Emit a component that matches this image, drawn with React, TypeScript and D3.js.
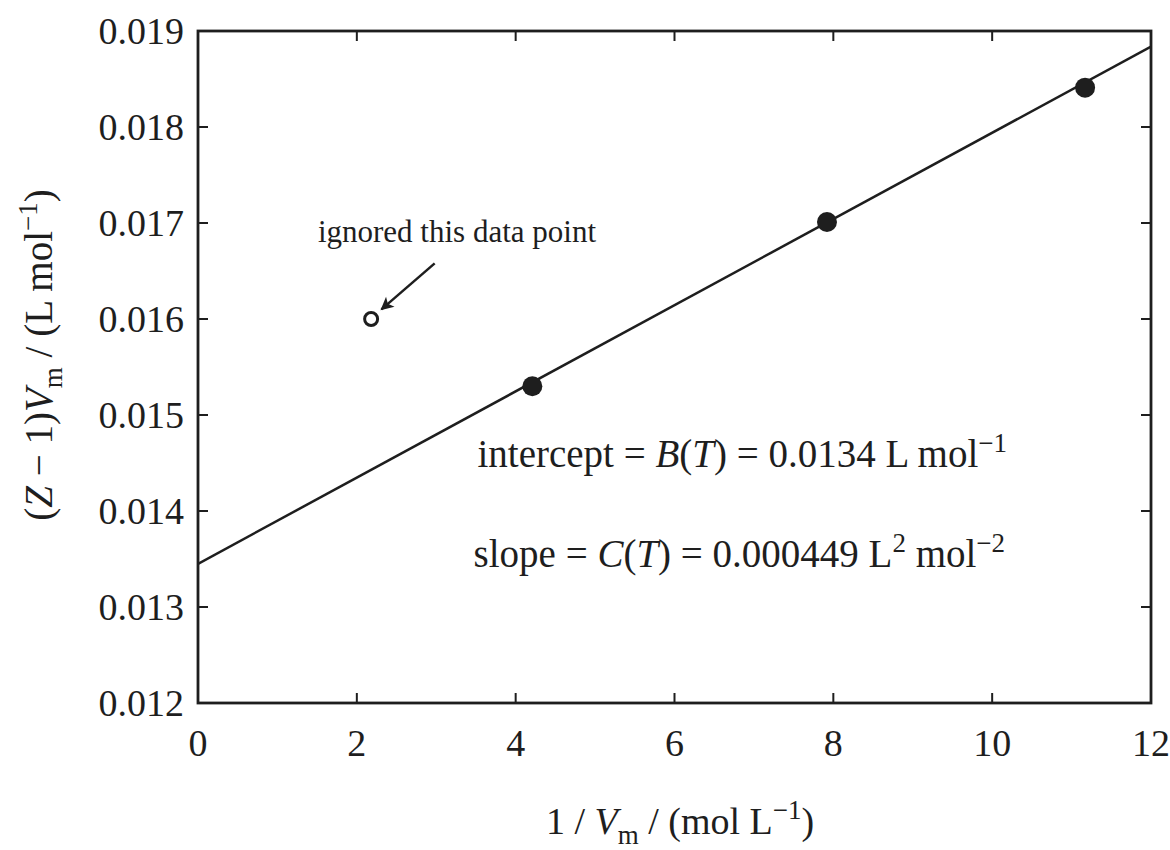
import React from "react";
import { scaleLinear, line } from "d3";

const width = 1170;
const height = 850;
const margin = { top: 31, right: 19, bottom: 147, left: 198 };
const font = "'Liberation Serif', 'Times New Roman', serif";

// data
const usedX = [4.21, 7.92, 11.17];
const usedY = [0.0153, 0.01701, 0.01841];
const ignoredX = [2.18];
const ignoredY = [0.016];
const fitIntercept = 0.01345;
const fitSlope = 0.000449;
const fitRange = [0, 12];
const xTicks = [0, 2, 4, 6, 8, 10, 12];
const yTicks = [0.012, 0.013, 0.014, 0.015, 0.016, 0.017, 0.018, 0.019];
// annotation arrow, data coordinates (from, to)
const arrowX = [2.98, 2.31];
const arrowY = [0.01658, 0.0161];

const innerWidth = width - margin.left - margin.right;
const innerHeight = height - margin.top - margin.bottom;

const App = () => {
  const x = scaleLinear().domain([0, 12]).range([0, innerWidth]);
  const y = scaleLinear().domain([0.012, 0.019]).range([innerHeight, 0]);

  const fitLine = line<number>()
    .x((d) => x(d))
    .y((d) => y(fitIntercept + fitSlope * d));

  const tick = 10;
  const ink = "#1e1e1e";

  return (
    <svg
      width={width}
      height={height}
      style={{ position: "absolute", left: 0, top: 0, background: "#fff" }}
      fontFamily={font}
    >
      <defs>
        <marker
          id="arrow"
          viewBox="0 0 10 10"
          refX="9"
          refY="5"
          markerWidth="18"
          markerHeight="13"
          orient="auto"
          markerUnits="userSpaceOnUse"
        >
          <path d="M0,0 L10,5 L0,10 L2.5,5 Z" fill={ink} />
        </marker>
        <clipPath id="plot">
          <rect width={innerWidth} height={innerHeight} />
        </clipPath>
      </defs>
      <g transform={`translate(${margin.left},${margin.top})`}>
        {/* frame */}
        <rect
          width={innerWidth}
          height={innerHeight}
          fill="none"
          stroke={ink}
          strokeWidth={2.8}
        />

        {/* x ticks, inward on bottom and top */}
        {xTicks.map((t) => (
          <g key={`x${t}`}>
            {t > 0 && t < 12 && (
              <>
                <line x1={x(t)} x2={x(t)} y1={innerHeight} y2={innerHeight - tick} stroke={ink} strokeWidth={2} />
                <line x1={x(t)} x2={x(t)} y1={0} y2={tick} stroke={ink} strokeWidth={2} />
              </>
            )}
            <text x={x(t)} y={innerHeight + 53} textAnchor="middle" fontSize={38} fill={ink}>
              {t}
            </text>
          </g>
        ))}

        {/* y ticks, inward on left and right */}
        {yTicks.map((t) => (
          <g key={`y${t}`}>
            {t > 0.0125 && t < 0.0185 && (
              <>
                <line x1={0} x2={tick} y1={y(t)} y2={y(t)} stroke={ink} strokeWidth={2} />
                <line x1={innerWidth} x2={innerWidth - tick} y1={y(t)} y2={y(t)} stroke={ink} strokeWidth={2} />
              </>
            )}
            <text x={-14} y={y(t) + 13} textAnchor="end" fontSize={38} fill={ink}>
              {t.toFixed(3)}
            </text>
          </g>
        ))}

        {/* fit line */}
        <path
          d={fitLine(fitRange) || ""}
          fill="none"
          stroke={ink}
          strokeWidth={2.5}
          clipPath="url(#plot)"
        />

        {/* used points */}
        {usedX.map((v, i) => (
          <circle key={`u${i}`} cx={x(v)} cy={y(usedY[i])} r={10} fill={ink} />
        ))}

        {/* ignored point */}
        {ignoredX.map((v, i) => (
          <circle key={`g${i}`} cx={x(v)} cy={y(ignoredY[i])} r={6.5} fill="#fff" stroke={ink} strokeWidth={3} />
        ))}

        {/* annotation */}
        <line
          x1={x(arrowX[0])}
          y1={y(arrowY[0])}
          x2={x(arrowX[1])}
          y2={y(arrowY[1])}
          stroke={ink}
          strokeWidth={2.5}
          markerEnd="url(#arrow)"
        />
        <text x={x(1.51)} y={y(0.0168)} fontSize={31} fill={ink}>
          ignored this data point
        </text>

        <text x={x(3.52)} y={y(0.01446)} fontSize={39} fill={ink}>
          intercept = <tspan fontStyle="italic">B</tspan>(<tspan fontStyle="italic">T</tspan>) = 0.0134 L mol
          <tspan dy={-15} fontSize={27}>−1</tspan>
        </text>
        <text x={x(3.47)} y={y(0.01342)} fontSize={39} fill={ink}>
          slope = <tspan fontStyle="italic">C</tspan>(<tspan fontStyle="italic">T</tspan>) = 0.000449 L
          <tspan dy={-15} fontSize={27}>2</tspan>
          <tspan dy={15}> mol</tspan>
          <tspan dy={-15} fontSize={27}>−2</tspan>
        </text>

        {/* x axis title */}
        <text x={482} y={innerHeight + 131} textAnchor="middle" fontSize={38} fill={ink}>
          1 / <tspan fontStyle="italic">V</tspan>
          <tspan dy={10} fontSize={27}>m</tspan>
          <tspan dy={-10}> / (mol L</tspan>
          <tspan dy={-15} fontSize={27}>−1</tspan>
          <tspan dy={15}>)</tspan>
        </text>

        {/* y axis title */}
        <text
          transform={`translate(${-margin.left + 52},${innerHeight / 2 - 12}) rotate(-90)`}
          textAnchor="middle"
          fontSize={39}
          fill={ink}
        >
          (<tspan fontStyle="italic">Z</tspan> − 1)<tspan fontStyle="italic">V</tspan>
          <tspan dy={10} fontSize={27}>m</tspan>
          <tspan dy={-10}> / (L mol</tspan>
          <tspan dy={-15} fontSize={27}>−1</tspan>
          <tspan dy={15}>)</tspan>
        </text>
      </g>
    </svg>
  );
};

export default App;
